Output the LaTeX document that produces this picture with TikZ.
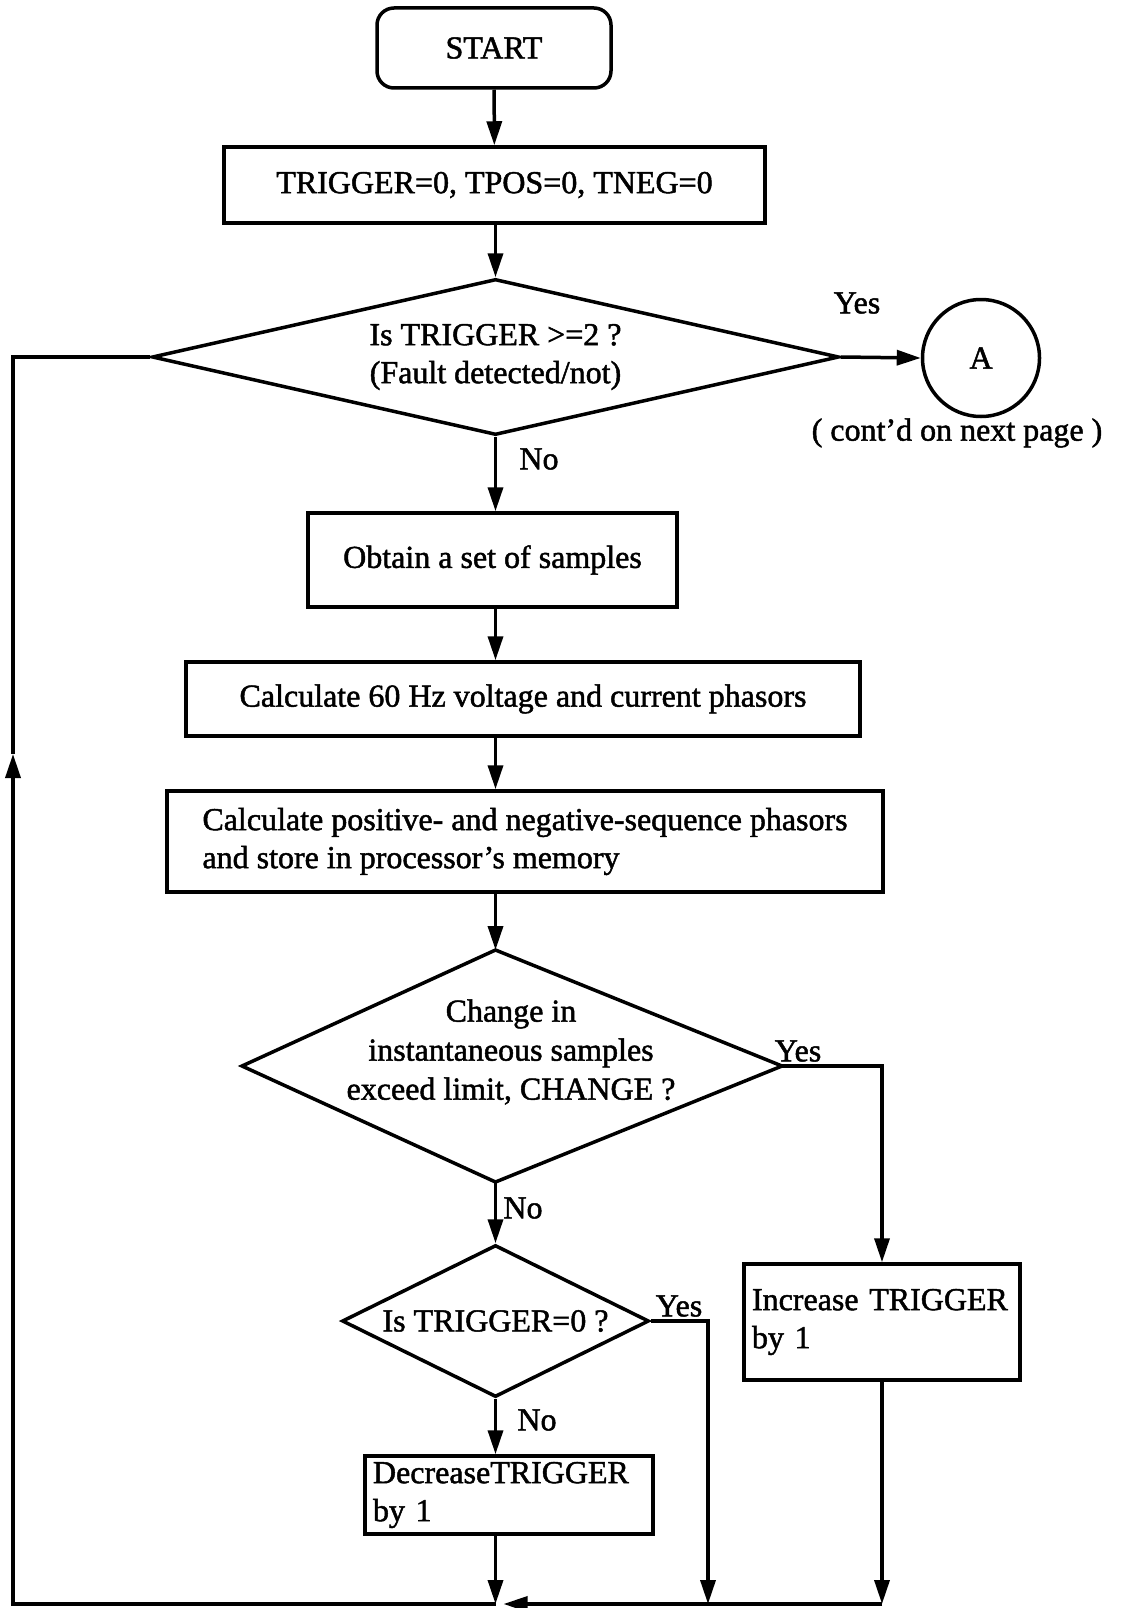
\documentclass[tikz,border=0pt]{standalone}
\usepackage{fontspec}
\setmainfont{Liberation Serif}[BoldFont=Liberation Serif,BoldFeatures={FakeBold=1.5}]
\usetikzlibrary{shapes.geometric,arrows.meta}
\begin{document}
\begin{tikzpicture}[x=1pt,y=-1pt,
  every node/.style={font=\bfseries\fontsize{32}{38}\selectfont},
  line/.style={line width=3.5pt},
  arr/.style={line width=3.5pt,-{Triangle[length=24pt,width=15pt]}},
  box/.style={draw,line width=3.5pt,rectangle,inner sep=0pt},
  dia/.style={draw,line width=3.5pt,diamond,inner sep=0pt},
  lbl/.style={inner sep=0pt}]
\useasboundingbox (0,0) rectangle (1123,1608);

% main column
\node[box,rounded corners=17pt,minimum width=234pt,minimum height=80pt] (start) at (494,48) {START};
\node[box,minimum width=541pt,minimum height=76pt] (init) at (494.5,185) {TRIGGER=0, TPOS=0, TNEG=0};
\node[dia,aspect=4.4,minimum width=687pt,minimum height=156pt,align=center] (d1) at (495.5,357)
  {Is TRIGGER >=2 ?\\(Fault detected/not)};
\node[draw,circle,line width=3.5pt,minimum size=117pt,inner sep=0pt] (A) at (981,358) {A};
\node[lbl] (yes1) at (857,303) {Yes};
\node[lbl] (cont) at (957,433) {( cont’d on next page )};
\node[lbl] (no1) at (539,459) {No};

\node[box,minimum width=369pt,minimum height=94pt] (samp) at (492.5,560) {Obtain a set of samples};
\node[box,minimum width=674pt,minimum height=74pt] (phas) at (523,699) {Calculate 60 Hz voltage and current phasors};
\node[box,minimum width=716pt,minimum height=101pt,align=left] (seq) at (525,841.5)
  {Calculate positive- and negative-sequence phasors\\and store in processor’s memory};

% decision on the change in samples
\coordinate (d2t) at (495.5,950);
\coordinate (d2r) at (782,1066);
\coordinate (d2b) at (495.5,1182);
\coordinate (d2l) at (242,1066);
\draw[line] (d2t) -- (d2r) -- (d2b) -- (d2l) -- cycle;
\node[lbl,align=center,font=\bfseries\fontsize{32}{39}\selectfont] (d2txt) at (511,1052)
  {Change in\\instantaneous samples\\exceed limit, CHANGE ?};
\node[lbl] (yes2) at (798,1051) {Yes};
\node[lbl] (no2) at (523,1208) {No};

\node[dia,aspect=2.02,minimum width=307pt,minimum height=152pt] (d3) at (495.5,1321) {Is TRIGGER=0 ?};
\node[lbl] (yes3) at (679,1306) {Yes};
\node[lbl] (no3) at (537,1420) {No};

\node[box,minimum width=288pt,minimum height=78pt,align=left,text width=272pt] (dec) at (509,1495)
  {DecreaseTRIGGER\\by 1};
\node[box,minimum width=276pt,minimum height=116pt,align=left,text width=260pt] (inc) at (882,1322)
  {Increase TRIGGER\\by 1};

% return path
\coordinate (j1) at (495.5,1604);
\coordinate (j2) at (708,1604);
\coordinate (lb) at (13,1604);
\coordinate (lm) at (13,754);
\coordinate (lt) at (13,357);

% connectors
\draw[arr] (start) -- (init);
\draw[arr] (init.south -| d1.north) -- (d1.north);
\draw[arr] (d1.east) -- (A.west);
\draw[arr] (d1.south) -- (d1.south |- samp.north);
\draw[arr] (samp.south -| d1.south) -- (d1.south |- phas.north);
\draw[arr] (phas.south -| d1.south) -- (d1.south |- seq.north);
\draw[arr] (seq.south -| d2t) -- (d2t);
\draw[arr] (d2r) -| (inc.north);
\draw[arr] (d2b) -- (d3.north);
\draw[arr] (d3.south) -- (d3.south |- dec.north);
\draw[arr] (d3.east) -| (j2);
\draw[arr] (dec.south -| d3.south) -- (j1);
\draw[arr] (inc.south) -- (inc.south |- j1);
\draw[arr] (inc.south |- j1) -- ([xshift=8pt]j1);
\draw[arr] (j1) -- (lb) -- (lm);
\draw[line] (lm) -- (lt) -- (d1.west);
\end{tikzpicture}
\end{document}
